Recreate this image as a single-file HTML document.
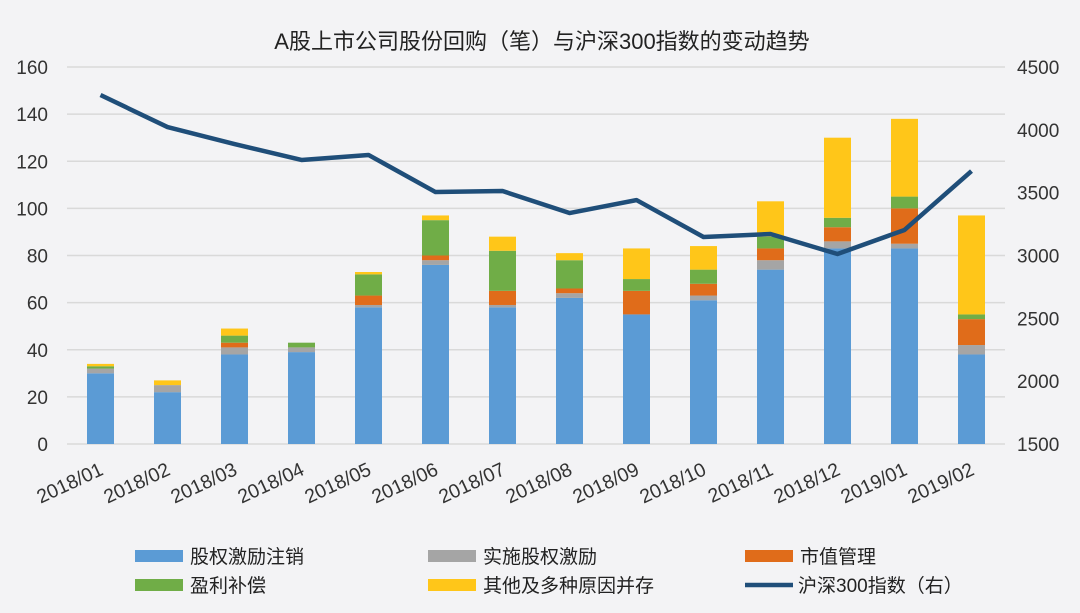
<!DOCTYPE html>
<html><head><meta charset="utf-8"><style>
body{margin:0;background:#f3f3f5;}
svg{display:block;font-family:"Liberation Sans","Noto Sans CJK SC",sans-serif;}
</style></head><body>
<svg id="c" width="1080" height="613">
<rect width="1080" height="613" fill="#f3f3f5"/>
<text x="542" y="49" text-anchor="middle" font-size="22" fill="#222">A股上市公司股份回购（笔）与沪深300指数的变动趋势</text>
<g id="grid"></g><g id="bars"></g><g id="line"></g><g id="axes"></g><g id="legend"></g>
</svg>
<script>
const categories=["2018/01","2018/02","2018/03","2018/04","2018/05","2018/06","2018/07","2018/08","2018/09","2018/10","2018/11","2018/12","2019/01","2019/02"];
const incentiveCancel=[30,22,38,39,58,76,58,62,55,61,74,83,83,38];
const incentiveImpl=[2,3,3,2,1,2,1,2,0,2,4,3,2,4];
const marketValue=[0,0,2,0,4,2,6,2,10,5,5,6,15,11];
const profitComp=[1,0,3,2,9,15,17,12,5,6,5,4,5,2];
const otherReasons=[1,2,3,0,1,2,6,3,13,10,15,34,33,42];
const csi300=[4277,4022,3887,3760,3800,3505,3513,3338,3441,3147,3171,3012,3203,3672];
const leftTicks=[0,20,40,60,80,100,120,140,160];
const rightTicks=[1500,2000,2500,3000,3500,4000,4500];
const seriesNames=["股权激励注销","实施股权激励","市值管理","盈利补偿","其他及多种原因并存"];
const colors=["#5b9bd5","#a5a5a5","#e06c1a","#70ad47","#ffc619"];

const NS="http://www.w3.org/2000/svg";
const X0=67,X1=1005,Y0=444,Y1=67;
const band=(X1-X0)/categories.length;
const xc=i=>X0+band*(i+0.5);
const yL=v=>Y0-(v/160)*(Y0-Y1);
const yR=v=>Y0-((v-1500)/3000)*(Y0-Y1);
function mk(tag,attrs,parent,txt){const e=document.createElementNS(NS,tag);for(const k in attrs)e.setAttribute(k,attrs[k]);if(txt!=null)e.textContent=txt;parent.appendChild(e);return e;}
const G=id=>document.getElementById(id);

leftTicks.forEach(t=>{
  const l=mk("line",{x1:X0,x2:X1,y1:yL(t),y2:yL(t),stroke:"#d9d9d9","stroke-width":1.5},G("grid"));
  
  
  const tx=mk("text",{x:48,y:yL(t)+7,"text-anchor":"end","font-size":19,fill:"#333"},G("axes"),t);
  
  
});
rightTicks.forEach(t=>{
  const tx=mk("text",{x:1017,y:yR(t)+7,"font-size":19,fill:"#333"},G("axes"),t);
  
  
});
const series=[incentiveCancel,incentiveImpl,marketValue,profitComp,otherReasons];
categories.forEach((c,i)=>{
  let acc=0;
  series.forEach((s,k)=>{
    const v=s[i];if(v<=0)return;
    const r=mk("rect",{x:xc(i)-13.5,width:27,y:yL(acc+v),height:yL(acc)-yL(acc+v),fill:colors[k]},G("bars"));
    
    
    acc+=v;
  });
  const lb=mk("text",{x:0,y:0,"text-anchor":"end","font-size":19.5,fill:"#333",transform:`translate(${xc(i)+4},${474}) rotate(-25)`},G("axes"),c);
  
  
});
const pl=mk("polyline",{points:csi300.map((v,i)=>xc(i)+","+yR(v)).join(" "),fill:"none",stroke:"#1f4e79","stroke-width":4.5,"stroke-linejoin":"round"},G("line"));



const legPos=[[135,556],[428,556],[745,556],[135,585],[428,585]];
seriesNames.forEach((n,k)=>{
  const [x,y]=legPos[k];
  const r=mk("rect",{x:x,y:y-6,width:48,height:12,fill:colors[k]},G("legend"));
  
  
  const t=mk("text",{x:x+55,y:y+7,"font-size":19,fill:"#222"},G("legend"),n);
  
  
});
const ll=mk("line",{x1:745,x2:793,y1:585,y2:585,stroke:"#1f4e79","stroke-width":4.5},G("legend"));


const lt=mk("text",{x:798,y:592,"font-size":19,fill:"#222"},G("legend"),"沪深300指数（右）");


</script>
</body></html>
